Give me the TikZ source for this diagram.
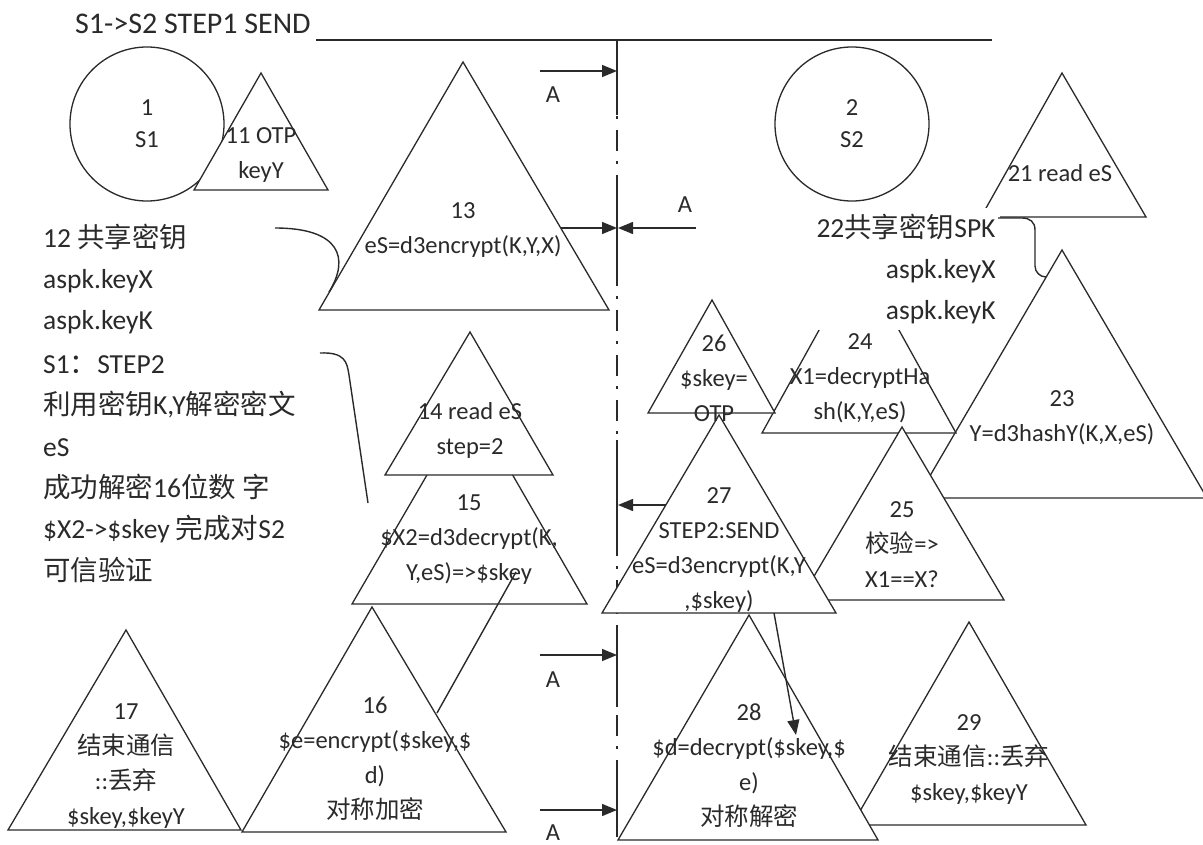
\documentclass[tikz,border=0pt]{standalone}
\usepackage{fontspec}
\setmainfont{Carlito}
\newfontfamily\cjk{Noto Sans CJK SC}
\usetikzlibrary{arrows.meta}
\definecolor{ink}{HTML}{2A2A2A}
\begin{document}
\begin{tikzpicture}[x=1pt,y=-1pt,
  tri/.style={draw=ink,line width=1.3pt,fill=white,line join=miter},
  lbl/.style={text=ink,align=center,inner sep=0pt,font=\fontsize{24.5}{35}\selectfont},
  side/.style={text=ink,inner sep=0pt,font=\fontsize{27.5}{41.4}\selectfont},
  conn/.style={draw=ink,line width=1.4pt},
  arr/.style={conn,-{Triangle[length=15pt,width=12pt]}},
  cutsolid/.style={draw=ink,line width=2.6pt},
  cutdash/.style={draw=ink,line width=1.8pt,dash pattern=on 21pt off 10pt on 3pt off 11pt},
  ring/.style={draw=ink,line width=1.3pt,circle,minimum size=154pt,inner sep=0pt,align=center,
    text=ink,font=\fontsize{24.5}{32}\selectfont}
]
\useasboundingbox (0,0) rectangle (1203,845);
\fill[white] (0,0) rectangle (1203,845);

% header line and section line
\node[text=ink,anchor=west,inner sep=0pt,font=\fontsize{30}{36}\selectfont] (title) at (75,24) {S1->S2 STEP1 SEND};
\coordinate (hl) at (316,40);
\coordinate (hr) at (992,40);
\draw[conn] (hl) -- (hr);
\coordinate (vtop) at (617,40);
\coordinate (vbot) at (617,837);
\draw[cutdash] (vtop) -- (vbot);
\draw[cutsolid] (617,40) -- (617,115);
\draw[cutsolid] (617,180) -- (617,270);
\draw[cutsolid] (617,440) -- (617,550);
\draw[cutsolid] (617,628) -- (617,707);
\draw[cutsolid] (617,775) -- (617,837);

% circles
\node[ring] (c1) at (147,124) {1\\S1};
\node[ring] (c2) at (852,124) {2\\S2};

% left side triangles
\path[tri] (261,73) -- (194,190) -- (328,190) -- cycle;
\path[tri] (463,62) -- (319,310) -- (609,310) -- cycle;
\path[tri] (470,401) -- (352,604) -- (587,604) -- cycle;
\path[tri] (470,332) -- (385,475) -- (553,475) -- cycle;
\coordinate (l15) at (516,572);
\coordinate (r16) at (437,713);
\draw[conn] (l15) -- (r16);
\path[tri] (372,607) -- (242,832) -- (506,832) -- cycle;
\path[tri] (126,630) -- (8,830) -- (241,830) -- cycle;

% right side triangles
\path[tri] (1062,73) -- (981,217) -- (1146,217) -- cycle;
\path[tri] (1062,250) -- (917,498) -- (1207,498) -- cycle;
\path[tri] (859,258) -- (762,433) -- (956,433) -- cycle;
\node[side,align=right,fill=white,inner xsep=4pt,inner ysep=6pt] (t22) at (906,269)
  {22{\cjk 共享密钥}SPK\\aspk.keyX\\aspk.keyK};
\path[tri] (712,300) -- (648,413) -- (775,413) -- cycle;
\path[tri] (902,427) -- (800,600) -- (1004,600) -- cycle;
\path[tri] (719,415) -- (602,613) -- (836,613) -- cycle;
\path[tri] (969,622) -- (852,825) -- (1086,825) -- cycle;
\path[tri] (749,615) -- (618,840) -- (878,840) -- cycle;

% callout curves
\coordinate (s12) at (275,228);
\coordinate (e12) at (329,292);
\draw[conn] (s12) .. controls (340,228) and (350,258) .. (e12);
\coordinate (sS1) at (320,353);
\coordinate (mS1) at (349,375);
\coordinate (eS1) at (368,503);
\draw[conn] (sS1) .. controls (345,352) and (347,362) .. (mS1) -- (eS1);
\coordinate (s21) at (998,218);
\coordinate (e23) at (1046,277);
\draw[conn] (s21) -- (1022,218) .. controls (1030,218) and (1035,222) .. (1035,230)
  -- (1035,266) .. controls (1035,272) and (1040,277) .. (e23);

% section arrows
\coordinate (a1s) at (540,71);  \coordinate (a1e) at (617,71);
\coordinate (a2s) at (561,228); \coordinate (a2e) at (617,228);
\coordinate (a3s) at (696,228); \coordinate (a3e) at (618,228);
\coordinate (a4s) at (666,505); \coordinate (a4e) at (618,505);
\coordinate (a5s) at (540,655); \coordinate (a5e) at (617,655);
\coordinate (a6s) at (540,810); \coordinate (a6e) at (617,810);
\draw[arr] (a1s) -- (a1e);
\draw[arr] (a2s) -- (a2e);
\draw[arr] (a3s) -- (a3e);
\draw[arr] (a4s) -- (a4e);
\draw[arr] (a5s) -- (a5e);
\draw[arr] (a6s) -- (a6e);
\coordinate (b27) at (774,613);
\coordinate (i28) at (796,735);
\draw[arr] (b27) -- (i28);

\node[lbl] (A1) at (553,95) {A};
\node[lbl] (A2) at (685,205) {A};
\node[lbl] (A3) at (553,680) {A};
\node[lbl] (A4) at (553,833) {A};

% side texts
\node[side,align=left,anchor=west] (t12) at (43,279)
  {12 {\cjk 共享密钥}\\aspk.keyX\\aspk.keyK};
\node[side,align=left,anchor=west] (tS1) at (43,469)
  {S1{\cjk ：}STEP2\\{\cjk 利用密钥}K,Y{\cjk 解密密文}\\eS\\{\cjk 成功解密}16{\cjk 位数 字}\\\$X2->\$skey {\cjk 完成对}S2\\{\cjk 可信验证}};

% triangle texts
\node[lbl] (t11) at (261,155) {11 OTP\\keyY};
\node[lbl] (t13) at (463,230) {13\\eS=d3encrypt(K,Y,X)};
\node[lbl] (t14) at (470,430) {14 read eS\\step=2};
\node[lbl] (t15) at (469,540) {15\\\$X2=d3decrypt(K,\\Y,eS)=>\$skey};
\node[lbl] (t16) at (375,759) {16\\\$e=encrypt(\$skey,\$\\d)\\{\cjk 对称加密}};
\node[lbl] (t17) at (126,766) {17\\{\cjk 结束通信}\\::{\cjk 丢弃}\\\$skey,\$keyY};
\node[lbl] (t21) at (1060,173) {21 read eS};
\node[lbl] (t23) at (1062,418) {23\\Y=d3hashY(K,X,eS)};
\node[lbl] (t24) at (860,378) {24\\X1=decryptHa\\sh(K,Y,eS)};
\node[lbl] (t25) at (902,545) {25\\{\cjk 校验}=>\\X1==X?};
\node[lbl] (t26) at (714,378) {26\\\$skey=\\OTP};
\node[lbl] (t27) at (719,550) {27\\STEP2:SEND\\eS=d3encrypt(K,Y\\,\$skey)};
\node[lbl] (t28) at (749,766) {28\\\$d=decrypt(\$skey,\$\\e)\\{\cjk 对称解密}};
\node[lbl] (t29) at (969,760) {29\\{\cjk 结束通信}::{\cjk 丢弃}\\\$skey,\$keyY};
\end{tikzpicture}
\end{document}
